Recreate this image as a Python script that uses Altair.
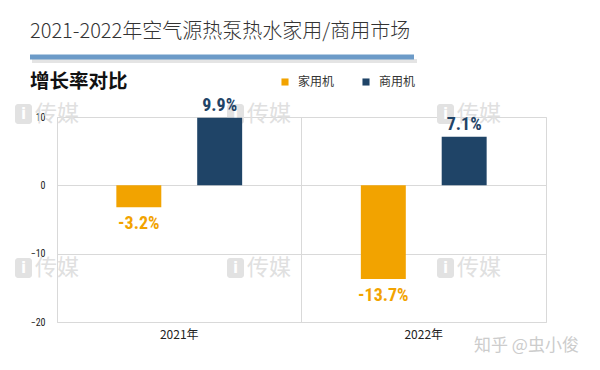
import altair as alt
import pandas as pd

years = ["2021年", "2022年"]
series = ["家用机", "商用机"]
home_values = [-3.2, -13.7]
comm_values = [9.9, 7.1]
colors = ["#F2A300", "#1F4467"]

rows = []
for i, y in enumerate(years):
    rows.append({"year": y, "series": series[0], "value": home_values[i]})
    rows.append({"year": y, "series": series[1], "value": comm_values[i]})
df = pd.DataFrame(rows)
df["label"] = df["value"].map(lambda v: f"{v:.1f}%")

W, H = 489, 205
CJK = "Noto Sans CJK SC"
NUMFONT = "Roboto Condensed, DejaVu Sans Condensed, Roboto, sans-serif"

x_enc = alt.X("year:N", sort=years,
              scale=alt.Scale(paddingInner=0, paddingOuter=0),
              axis=alt.Axis(title=None, labelAngle=0, grid=True, bandPosition=0,
                            ticks=False, domain=False, gridColor="#d9d9d9",
                            labelFont=CJK, labelFontSize=12, labelColor="#222",
                            labelPadding=7))
xo_enc = alt.XOffset("series:N", sort=series,
                     scale=alt.Scale(domain=series, paddingInner=0.444, paddingOuter=0.734))
y_enc = alt.Y("value:Q",
              scale=alt.Scale(domain=[-20, 10], nice=False, zero=False),
              axis=alt.Axis(title=None, values=[10, 0, -10, -20], grid=True,
                            domain=False, ticks=False, gridColor="#d9d9d9",
                            labelFont=NUMFONT, labelFontSize=10, labelColor="#222",
                            labelPadding=12))
color_scale = alt.Scale(domain=series, range=colors)

base = alt.Chart(df)

# watermarks (grey "i" badge + text)
wm_layers = []
one = pd.DataFrame({"t": ["传媒"]})
for wx, wy in [(-42, -3), (170, -3), (380, -3), (-42, 151), (170, 151), (380, 151)]:
    wm_layers.append(
        alt.Chart(one).mark_rect(color="#e2e2e2", cornerRadius=3).encode(
            x=alt.value(wx), x2=alt.value(wx + 17),
            y=alt.value(wy - 10), y2=alt.value(wy + 10))
    )
    wm_layers.append(
        alt.Chart(pd.DataFrame({"t": ["i"]})).mark_text(
            align="center", baseline="middle", font="DejaVu Sans", fontSize=15,
            fontWeight="bold", color="white"
        ).encode(x=alt.value(wx + 8.5), y=alt.value(wy), text="t:N")
    )
    wm_layers.append(
        alt.Chart(one).mark_text(
            align="left", baseline="middle", font=CJK, fontSize=22,
            color="#e0e0e0"
        ).encode(x=alt.value(wx + 20), y=alt.value(wy), text="t:N")
    )

bars = base.mark_bar().encode(
    x=x_enc, xOffset=xo_enc, y=y_enc,
    color=alt.Color("series:N", scale=color_scale, sort=series,
                    legend=alt.Legend(orient="none", legendX=222, legendY=-41,
                                      direction="horizontal", title=None,
                                      symbolType="square", symbolSize=50,
                                      symbolStrokeWidth=0,
                                      labelFont=CJK, labelFontSize=12,
                                      labelColor="#333", labelOffset=7,
                                      columnPadding=25)),
)

pos_text = base.transform_filter("datum.value >= 0").mark_text(
    baseline="bottom", dy=-3, font=NUMFONT, fontSize=18, fontWeight="bold"
).encode(x=x_enc, xOffset=xo_enc, y=y_enc, text="label:N",
         color=alt.Color("series:N", scale=color_scale, legend=None))

neg_text = base.transform_filter("datum.value < 0").mark_text(
    baseline="top", dy=8, font=NUMFONT, fontSize=18, fontWeight="bold"
).encode(x=x_enc, xOffset=xo_enc, y=y_enc, text="label:N",
         color=alt.Color("series:N", scale=color_scale, legend=None))

deco = pd.DataFrame({"t": ["x"]})
shadow = alt.Chart(deco).mark_rule(color="#e4e4e4", strokeWidth=4).encode(
    x=alt.value(-25), x2=alt.value(360), y=alt.value(-56))
blue_rule = alt.Chart(deco).mark_rule(color="#6C9BC8", strokeWidth=5).encode(
    x=alt.value(-27), x2=alt.value(357), y=alt.value(-60))
title = alt.Chart(pd.DataFrame({"t": ["2021-2022年空气源热泵热水家用/商用市场"]})).mark_text(
    align="left", baseline="middle", font=CJK, fontSize=20, fontWeight=300, color="#333"
).encode(x=alt.value(-27), y=alt.value(-85), text="t:N")
subtitle = alt.Chart(pd.DataFrame({"t": ["增长率对比"]})).mark_text(
    align="left", baseline="middle", font=CJK, fontSize=19.5, fontWeight="bold", color="#111"
).encode(x=alt.value(-27), y=alt.value(-35), text="t:N")
zhihu = alt.Chart(pd.DataFrame({"t": ["知乎 @虫小俊"]})).mark_text(
    align="left", baseline="middle", font=CJK, fontSize=17, color="#cccccc"
).encode(x=alt.value(417), y=alt.value(229), text="t:N")

chart = alt.layer(
    *wm_layers, bars, pos_text, neg_text, shadow, blue_rule, title, subtitle, zhihu
).properties(
    width=W, height=H,
    autosize=alt.AutoSizeParams(type="none"),
    padding={"left": 49, "top": 109, "right": 40, "bottom": 40},
    background="white",
).configure_view(stroke="#d9d9d9")

chart.save("out.html", embed_options={"renderer": "svg", "actions": False})
